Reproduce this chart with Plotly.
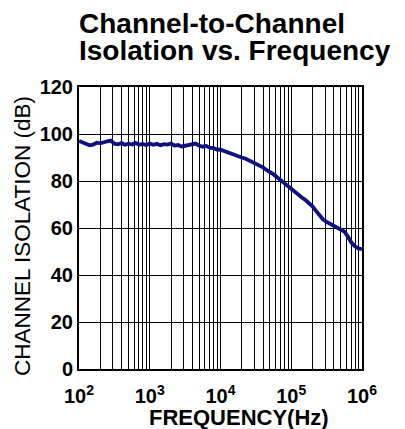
import plotly.graph_objects as go

freq_hz = [
    100, 112, 126, 141, 158, 178, 200, 224, 251, 282,
    316, 355, 398, 447, 501, 562, 631, 708, 794, 891,
    1000, 1122, 1259, 1413, 1585, 1778, 1995, 2239, 2512, 2818,
    3162, 3548, 3981, 4467, 5012, 5623, 6310, 7079, 7943, 8913,
    10000, 11220, 12589, 14125, 15849, 17783, 19953, 22387, 25119, 28184,
    31623, 35481, 39811, 44668, 50119, 56234, 63096, 70795, 79433, 89125,
    100000, 112202, 125893, 141254, 158489, 177828, 199526, 223872, 251189, 281838,
    316228, 354813, 398107, 446684, 501187, 562341, 630957, 707946, 794328, 891251,
    1000000,
]
isolation_db = [
    97.0, 96.4, 95.8, 95.2, 95.5, 96.3, 96.0, 96.6, 96.9, 97.2,
    95.9, 95.6, 96.1, 95.4, 95.9, 95.5, 96.2, 95.4, 95.8, 95.3,
    95.9, 95.4, 95.8, 95.2, 95.7, 95.5, 95.9, 95.1, 95.3, 94.7,
    94.9, 95.4, 95.7, 95.9, 95.0, 94.6, 94.9, 94.2, 94.0, 93.4,
    93.3, 92.7, 92.4, 91.9, 91.2, 90.6, 90.0, 89.6, 88.9, 88.3,
    87.4, 86.6, 85.8, 84.7, 83.9, 82.8, 81.6, 80.3, 79.2, 77.9,
    76.4, 75.2, 74.1, 73.0, 71.9, 70.6, 69.2, 67.3, 65.6, 63.6,
    62.6, 61.8, 61.2, 60.4, 59.6, 58.5, 56.4, 53.8, 52.2, 51.3,
    51.0,
]

# vertical grid positions (log decades with minor 2..9) and labels
x_grid_vals = [m * 10 ** e for e in range(2, 6) for m in range(1, 10)] + [10 ** 6]
x_grid_text = [f"10<sup>{e}</sup>" if m == 1 else "" for e in range(2, 6) for m in range(1, 10)] + ["10<sup>6</sup>"]
y_tick_vals = [0, 20, 40, 60, 80, 100, 120]

title_lines = ["Channel-to-Channel", "Isolation vs. Frequency"]
x_title = "FREQUENCY(Hz)"
y_title = "CHANNEL ISOLATION (dB)"

FONT = "Liberation Sans, Arial, sans-serif"

fig = go.Figure()
fig.add_trace(go.Scatter(
    x=freq_hz, y=isolation_db, mode="lines",
    line=dict(color="#101080", width=3.8),
    showlegend=False, hoverinfo="skip",
))

fig.update_layout(
    width=397, height=421,
    margin=dict(l=71, r=43, t=79, b=60),
    paper_bgcolor="white", plot_bgcolor="white",
    font=dict(family=FONT, color="black"),
    xaxis=dict(
        type="log", range=[2, 6],
        tickmode="array", tickvals=x_grid_vals, ticktext=x_grid_text,
        showgrid=True, gridcolor="black", gridwidth=1,
        showline=True, linecolor="black", linewidth=2, mirror=True,
        ticks="", zeroline=False, ticklabelstandoff=8,
        tickfont=dict(family=FONT, size=20, color="black", weight="bold"),
    ),
    yaxis=dict(
        range=[0, 120], tickmode="array", tickvals=y_tick_vals,
        showgrid=True, gridcolor="black", gridwidth=1,
        showline=True, linecolor="black", linewidth=2, mirror=True,
        ticks="", zeroline=False, ticklabelstandoff=0,
        tickfont=dict(family=FONT, size=20, color="black", weight="bold"),
    ),
    annotations=[
        dict(text=title_lines[0], xref="paper", yref="paper", x=0, y=1,
             xanchor="left", yanchor="bottom", yshift=46, xshift=-2, showarrow=False,
             font=dict(family=FONT, size=28, color="black", weight="bold")),
        dict(text=title_lines[1], xref="paper", yref="paper", x=0, y=1,
             xanchor="left", yanchor="bottom", yshift=19, xshift=-2, showarrow=False,
             font=dict(family=FONT, size=28, color="black", weight="bold")),
        dict(text=x_title, xref="paper", yref="paper", x=0.565, y=0,
             xanchor="center", yanchor="top", yshift=-34, showarrow=False,
             font=dict(family=FONT, size=22, color="black", weight="bold")),
        dict(text=y_title, xref="paper", yref="paper", x=0, y=0.47,
             xanchor="right", yanchor="middle", xshift=-42, textangle=-90, showarrow=False,
             font=dict(family=FONT, size=22.5, color="black")),
    ],
)

fig.write_html("out.html")
